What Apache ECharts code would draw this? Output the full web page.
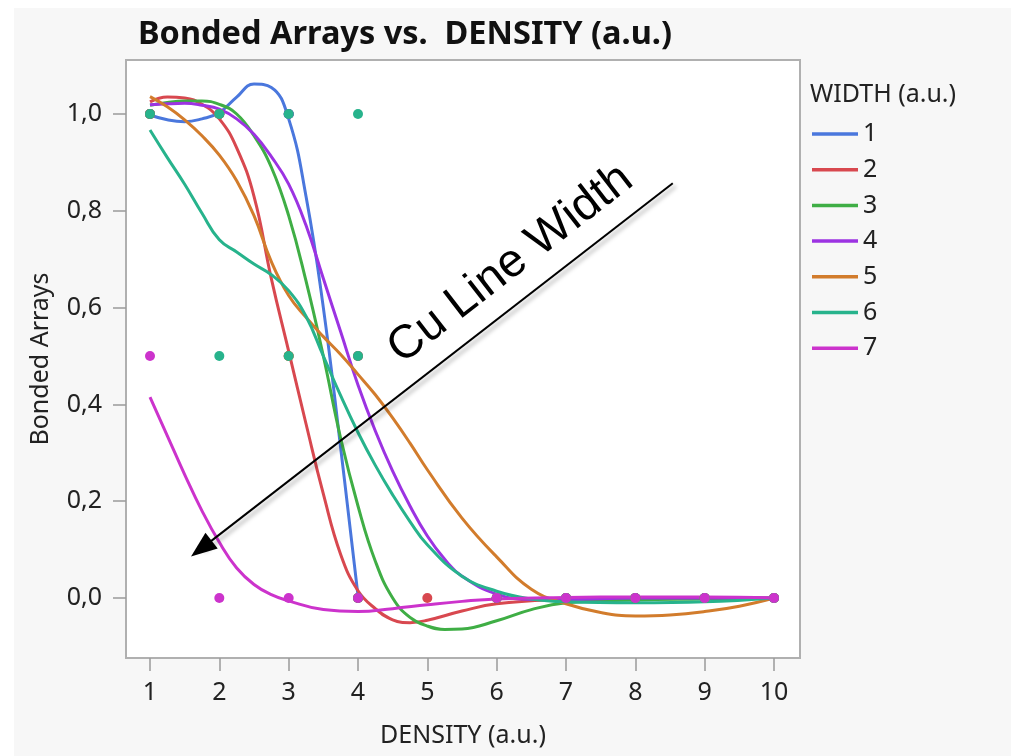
<!DOCTYPE html>
<html>
<head>
<meta charset="utf-8">
<script src="https://cdn.jsdelivr.net/npm/echarts@6/dist/echarts.min.js"></script>
<style>
  html, body { margin: 0; padding: 0; background: #ffffff; }
  #chart { position: absolute; left: 14px; top: 8px; width: 997px; height: 748px; }
</style>
</head>
<body>
<div id="chart"></div>
<script>
// Widths (a.u.) shown in the legend
const widths = ['1', '2', '3', '4', '5', '6', '7'];
const widthColors = ['#4a77dd', '#d8484f', '#3fae45', '#9c33e2', '#d27c2c', '#27b38c', '#cc33cc'];

// Axis ticks
const xTickValues = [1, 2, 3, 4, 5, 6, 7, 8, 9, 10];
const yTickValues = [0, 0.2, 0.4, 0.6, 0.8, 1.0];
const yTickLabels = ['0,0', '0,2', '0,4', '0,6', '0,8', '1,0'];

// Observed bonded-array fractions [density, value] per width
const obsW1 = [[1, 1], [2, 1], [3, 1], [4, 0]];
const obsW2 = [[1, 1], [2, 1], [3, 0.5], [4, 0], [5, 0], [6, 0], [7, 0], [8, 0], [9, 0], [10, 0]];
const obsW3 = [[1, 1], [2, 1], [3, 1], [4, 0], [6, 0], [7, 0], [8, 0], [9, 0], [10, 0]];
const obsW4 = [[1, 1], [2, 1], [3, 1], [4, 0.5], [6, 0], [7, 0], [8, 0], [9, 0], [10, 0]];
const obsW5 = [[1, 1], [2, 1], [3, 0.5], [4, 0.5], [6, 0], [7, 0], [8, 0], [9, 0], [10, 0]];
const obsW6 = [[1, 1], [2, 1], [2, 0.5], [3, 1], [3, 0.5], [4, 1], [4, 0.5], [6, 0], [7, 0], [8, 0], [9, 0], [10, 0]];
const obsW7 = [[1, 0.5], [2, 0], [3, 0], [4, 0], [6, 0], [7, 0], [8, 0], [9, 0], [10, 0]];

// Smoothed fits [density, value] per width
const fitW1 = [[1, 0.998], [1.25, 0.988], [1.5, 0.984], [1.75, 0.99], [2, 1.003], [2.25, 1.035], [2.5, 1.062],
  [2.75, 1.055], [3, 0.99], [3.25, 0.83], [3.5, 0.6], [3.75, 0.31], [4, 0.005]];
const fitW2 = [[1, 1.025], [1.25, 1.035], [1.5, 1.033], [1.75, 1.02], [2, 0.99], [2.25, 0.93], [2.5, 0.83],
  [2.75, 0.66], [3, 0.51], [3.25, 0.36], [3.5, 0.215], [3.75, 0.09], [4, 0.015], [4.25, -0.022], [4.5, -0.045],
  [4.75, -0.051], [5, -0.046], [5.5, -0.027], [6, -0.012], [7, -0.003], [8, 0], [9, 0], [10, 0]];
const fitW3 = [[1, 1.018], [1.25, 1.024], [1.5, 1.027], [1.75, 1.027], [2, 1.02], [2.25, 1.0], [2.5, 0.955],
  [2.75, 0.89], [3, 0.79], [3.25, 0.655], [3.5, 0.5], [3.75, 0.33], [4, 0.19], [4.25, 0.076], [4.5, 0.0],
  [4.75, -0.04], [5, -0.058], [5.25, -0.065], [5.5, -0.064], [6, -0.047], [6.5, -0.024], [7, -0.01],
  [8, -0.004], [9, -0.002], [10, 0]];
const fitW4 = [[1, 1.019], [1.25, 1.021], [1.5, 1.022], [1.75, 1.018], [2, 1.01], [2.25, 0.99], [2.5, 0.958],
  [2.75, 0.912], [3, 0.855], [3.25, 0.77], [3.5, 0.66], [3.75, 0.55], [4, 0.44], [4.25, 0.345], [4.5, 0.262],
  [4.75, 0.19], [5, 0.128], [5.25, 0.08], [5.5, 0.045], [6, 0.008], [6.5, -0.003], [7, -0.003], [8, 0], [9, 0], [10, 0]];
const fitW5 = [[1, 1.036], [1.25, 1.015], [1.5, 0.988], [1.75, 0.955], [2, 0.915], [2.25, 0.862], [2.5, 0.79],
  [2.75, 0.695], [3, 0.625], [3.25, 0.58], [3.5, 0.54], [3.75, 0.503], [4, 0.462], [4.25, 0.42], [4.5, 0.372],
  [4.75, 0.32], [5, 0.265], [5.5, 0.165], [6, 0.085], [6.5, 0.018], [7, -0.012], [7.5, -0.03], [8, -0.037],
  [8.5, -0.035], [9, -0.028], [9.5, -0.017], [10, 0]];
const fitW6 = [[1, 0.967], [1.25, 0.91], [1.5, 0.855], [1.75, 0.795], [2, 0.74], [2.25, 0.715], [2.5, 0.69],
  [2.75, 0.668], [3, 0.635], [3.25, 0.582], [3.5, 0.5], [3.75, 0.418], [4, 0.342], [4.25, 0.274], [4.5, 0.213],
  [4.75, 0.158], [5, 0.11], [5.5, 0.045], [6, 0.014], [6.5, -0.002], [7, -0.008], [8, -0.01], [9, -0.008], [10, 0]];
const fitW7 = [[1, 0.415], [1.25, 0.335], [1.5, 0.255], [1.75, 0.18], [2, 0.115], [2.25, 0.062], [2.5, 0.028],
  [2.75, 0.007], [3, -0.006], [3.5, -0.024], [4, -0.028], [4.5, -0.022], [5, -0.014], [5.5, -0.007], [6, -0.002],
  [7, 0.001], [8, 0.002], [9, 0.002], [10, 0]];

const observations = [obsW1, obsW2, obsW3, obsW4, obsW5, obsW6, obsW7];
const fits = [fitW1, fitW2, fitW3, fitW4, fitW5, fitW6, fitW7];

// Annotation arrow (data coordinates) and its caption
const arrowFrom = [8.54, 0.857];
const arrowTo = [1.74, 0.102];
const captionText = 'Cu Line Width';
const captionAt = [6.2, 0.69];

const uiFont = 'Noto Sans';
const txt = '#222';
const chart = echarts.init(document.getElementById('chart'), null, { renderer: 'canvas' });

const series = [];
// Smoothed fits first, observations drawn on top of them
fits.forEach((pts, i) => {
  series.push({
    name: widths[i],
    type: 'line',
    data: pts,
    smooth: 0.45,
    showSymbol: false,
    lineStyle: { color: widthColors[i], width: 3 },
    itemStyle: { color: widthColors[i] },
    z: 2,
    silent: true
  });
});
observations.forEach((pts, i) => {
  series.push({
    name: 'obs' + widths[i],
    type: 'scatter',
    data: pts,
    symbol: 'circle',
    symbolSize: 10,
    itemStyle: { color: widthColors[i], opacity: 1 },
    z: 3,
    silent: true
  });
});
series.push({
  name: 'arrow',
  type: 'line',
  data: [],
  z: 5,
  markLine: {
    silent: true,
    symbol: ['none', 'triangle'],
    symbolSize: [20, 26],
    label: { show: false },
    lineStyle: {
      color: '#000', width: 2, type: 'solid',
      shadowBlur: 4, shadowColor: 'rgba(0,0,0,0.35)', shadowOffsetX: 3, shadowOffsetY: 3
    },
    itemStyle: { color: '#000' },
    data: [[{ coord: arrowFrom }, { coord: arrowTo }]]
  }
});

chart.setOption({
  backgroundColor: '#f7f7f7',
  animation: false,
  title: [
    {
      text: 'Bonded Arrays vs.  DENSITY (a.u.)',
      left: 124, top: 10, padding: 0,
      textStyle: { fontFamily: uiFont, fontWeight: 'bold', fontSize: 32.5, color: '#111' }
    },
    {
      text: 'WIDTH (a.u.)',
      left: 796, top: 74, padding: 0,
      textStyle: { fontFamily: uiFont, fontWeight: 'normal', fontSize: 25, color: txt }
    }
  ],
  legend: {
    data: widths,
    orient: 'vertical',
    left: 798, top: 113, padding: 0,
    icon: 'rect',
    itemWidth: 46, itemHeight: 3.5,
    itemGap: 9.7,
    textStyle: { fontFamily: uiFont, fontSize: 25, color: txt, lineHeight: 26 },
    selectedMode: false
  },
  grid: {
    left: 112, top: 52, right: 211, bottom: 98,
    show: true, backgroundColor: '#ffffff', borderColor: '#b0b0b0', borderWidth: 2
  },
  xAxis: {
    type: 'value', min: 0.6538, max: 10.375,
    name: 'DENSITY (a.u.)', nameLocation: 'middle', nameGap: 65,
    nameTextStyle: { fontFamily: uiFont, fontSize: 25, color: txt },
    axisLine: { show: true, onZero: false, lineStyle: { color: '#b0b0b0', width: 2 } },
    axisTick: { show: true, customValues: xTickValues, length: 13, lineStyle: { color: '#9a9a9a', width: 1.5 } },
    axisLabel: { customValues: xTickValues, margin: 22, fontFamily: uiFont, fontSize: 25, color: txt },
    splitLine: { show: false }
  },
  yAxis: {
    type: 'value', min: -0.124, max: 1.1116,
    name: 'Bonded Arrays', nameLocation: 'middle', nameGap: 73,
    nameTextStyle: { fontFamily: uiFont, fontSize: 25, color: txt },
    axisLine: { show: true, onZero: false, lineStyle: { color: '#b0b0b0', width: 2 } },
    axisTick: { show: true, customValues: yTickValues, length: 13, lineStyle: { color: '#9a9a9a', width: 1.5 } },
    axisLabel: {
      customValues: yTickValues, margin: 24, fontFamily: uiFont, fontSize: 25, color: txt,
      formatter: v => {
        const k = yTickValues.findIndex(t => Math.abs(t - v) < 1e-9);
        return k >= 0 ? yTickLabels[k] : '';
      }
    },
    splitLine: { show: false }
  },
  series: series
});

// Caption along the arrow, placed in data space
const capPx = chart.convertToPixel({ gridIndex: 0 }, captionAt);
const fromPx = chart.convertToPixel({ gridIndex: 0 }, arrowFrom);
const toPx = chart.convertToPixel({ gridIndex: 0 }, arrowTo);
const angle = Math.atan2(toPx[1] - fromPx[1], fromPx[0] - toPx[0]);
chart.setOption({
  graphic: [{
    type: 'text',
    x: capPx[0], y: capPx[1],
    rotation: angle,
    z: 10,
    style: {
      text: captionText,
      fontFamily: 'Liberation Sans',
      fontSize: 47,
      fill: '#000',
      align: 'center',
      verticalAlign: 'middle'
    }
  }]
});
</script>
</body>
</html>
